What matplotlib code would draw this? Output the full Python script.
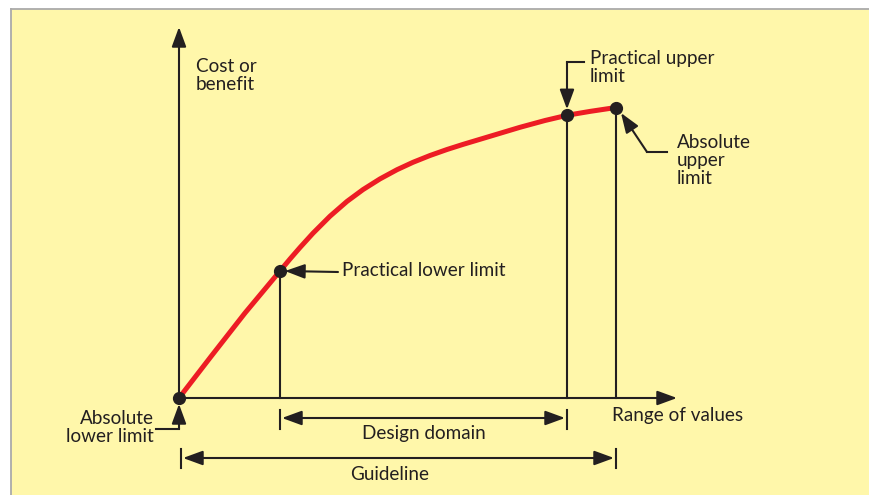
import numpy as np
import matplotlib
matplotlib.use('Agg')
from matplotlib import pyplot as plt
from matplotlib.patches import Rectangle

# curve (x right of origin, y above the x axis)
curve_x = [0, 32, 66, 101, 111, 121, 134, 151, 168, 184, 201, 218, 234, 251, 268,
           284, 301, 341, 366, 388, 411, 437]
curve_y = [0, 41.5, 85, 127, 139, 150.5, 164.8, 181.8, 196.6, 208.4, 219.1, 228.3,
           235.7, 242.5, 248.5, 253.6, 258.7, 270.7, 277.5, 282.7, 286.6, 290.5]

# the four marked limits
abs_lower = (0, 0)
prac_lower = (101, 127)
prac_upper = (388, 282.7)
abs_upper = (437, 290.5)

ink = '#231f20'
red = '#ed1c24'
panel = '#fff7aa'
fs = 13.6
ls = 1.08
plt.rcParams['font.family'] = ['Lato', 'DejaVu Sans']

fig = plt.figure(figsize=(8.7, 4.95), dpi=100)
ax = fig.add_axes([0, 0, 1, 1])
ox, oy = 179, 398  # origin of the diagram in pixels
ax.set_xlim(-ox, 870 - ox)
ax.set_ylim(oy - 495, oy)
ax.axis('off')

def P(px, py):
    # pixel position -> diagram coords
    return px - ox, oy - py

# yellow panel with grey top/left edge
x0, y0 = P(11, 9)
ax.add_patch(Rectangle((x0, oy - 500), 900, y0 - (oy - 500), facecolor=panel, edgecolor='none', zorder=0))
ax.plot([x0, 900], [y0, y0], color='#aaaaaa', lw=1.3, zorder=1)
ax.plot([x0, x0], [y0, oy - 500], color='#aaaaaa', lw=1.3, zorder=1)

head = dict(arrowstyle='-|>,head_length=0.6,head_width=0.22', mutation_scale=20,
            lw=1.5, color=ink, shrinkA=0, shrinkB=0)
both = dict(head, arrowstyle='<|-|>,head_length=0.6,head_width=0.22')

def arrow(start, tip, style=head):
    ax.annotate('', xy=tip, xytext=start, arrowprops=style, zorder=3)

# axes of the diagram
arrow((0, 0), P(179, 27))
arrow((0, 0), P(677, 398))

# drop lines
for px, py in [prac_lower, prac_upper, abs_upper]:
    ax.plot([px, px], [0, py], color=ink, lw=1.5, zorder=2)

# the curve and its points
ax.plot(curve_x, curve_y, color=red, lw=3.6, solid_capstyle='butt', solid_joinstyle='round', zorder=4)
pts = [abs_lower, prac_lower, prac_upper, abs_upper]
ax.plot([p[0] for p in pts], [p[1] for p in pts], 'o', color=ink, ms=8.5, zorder=5)

txt = dict(fontsize=fs, color=ink, linespacing=ls)

# labels
ax.text(*P(196, 58), 'Cost or\nbenefit', va='top', ha='left', **txt)
ax.text(*P(612, 416), 'Range of values', va='center', ha='left', **txt)

# practical lower limit
arrow(P(338, 272), (prac_lower[0] + 5, prac_lower[1]))
ax.text(*P(342, 271), 'Practical lower limit', va='center', ha='left', **txt)

# practical upper limit
ax.plot(*zip(P(584, 62), (prac_upper[0], oy - 62)), color=ink, lw=1.5)
arrow((prac_upper[0], oy - 62), (prac_upper[0], prac_upper[1] + 6))
ax.text(*P(590, 50), 'Practical upper\nlimit', va='top', ha='left', **txt)

# absolute upper limit
ax.plot(*zip(P(667, 152), P(647, 152)), color=ink, lw=1.5)
arrow(P(647, 152), P(621, 113))
ax.text(*P(677, 134), 'Absolute\nupper\nlimit', va='top', ha='left', **txt)

# absolute lower limit
ax.plot(*zip(P(156, 429), P(179, 429)), color=ink, lw=1.5)
arrow(P(179, 429), (abs_lower[0], abs_lower[1] - 6))
ax.text(*P(154, 410), 'Absolute\nlower limit', va='top', ha='right', **txt)

# design domain bracket
yd = oy - 418
for px in [prac_lower[0], prac_upper[0]]:
    ax.plot([px, px], [oy - 410, oy - 429], color=ink, lw=1.5)
arrow((prac_lower[0] + 2, yd), (prac_upper[0] - 2, yd), both)
ax.text((prac_lower[0] + prac_upper[0]) / 2, oy - 434, 'Design domain', ha='center', va='center', **txt)

# guideline bracket
yg = oy - 458
for px in [abs_lower[0] + 2, abs_upper[0]]:
    ax.plot([px, px], [oy - 449, oy - 468], color=ink, lw=1.5)
arrow((abs_lower[0] + 4, yg), (abs_upper[0] - 2, yg), both)
ax.text((abs_lower[0] + abs_upper[0]) / 2 - 8, oy - 474, 'Guideline', ha='center', va='center', **txt)

fig.savefig('out.png', dpi=100)
